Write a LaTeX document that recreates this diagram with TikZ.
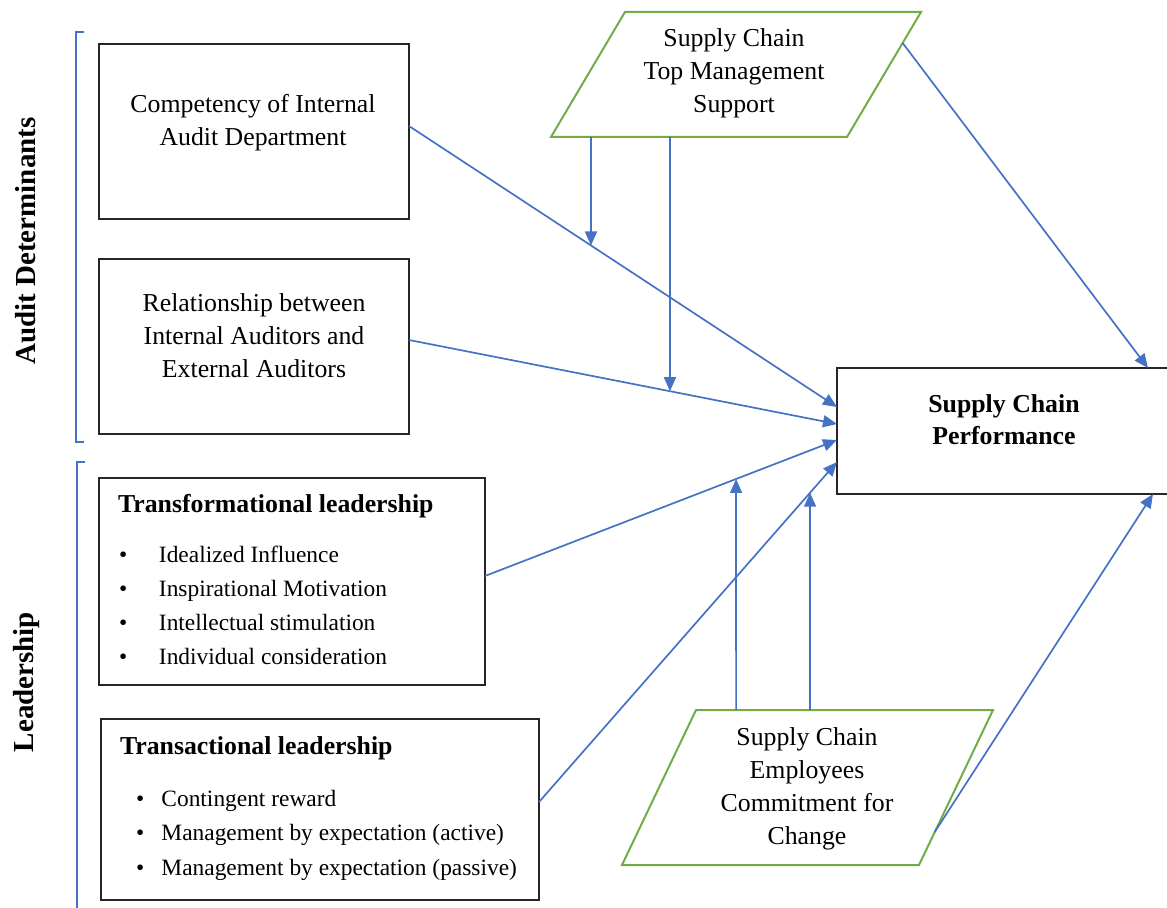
\documentclass[tikz,border=0pt]{standalone}
\usepackage{fontspec}
\setmainfont{Liberation Serif}
\usetikzlibrary{arrows.meta,calc}

\definecolor{linkblue}{HTML}{4472C4}
\definecolor{modgreen}{HTML}{70AD47}
\definecolor{boxline}{HTML}{262626}

% centred stack of lines whose baseline is the first line
\newcommand{\linesc}[1]{\begin{tabular}[t]{@{}c@{}}#1\end{tabular}}
% left-aligned list whose baseline is the first line
\newcommand{\linesl}[1]{\begin{tabular}[t]{@{}l@{}}#1\end{tabular}}
% bullet set in a box of fixed width
\newcommand{\itemdot}[1]{\makebox[#1][l]{\textbullet}}

\begin{document}
\begin{tikzpicture}[x=0.5pt,y=-0.5pt,
  every node/.style={inner sep=0pt, outer sep=0pt},
  frame/.style={draw=boxline, line width=1pt},
  para/.style={draw=modgreen, line width=1pt},
  conn/.style={draw=linkblue, line width=0.85pt, -{Triangle[length=7pt,width=6pt]}},
  brace/.style={draw=linkblue, line width=0.8pt},
  body/.style={font=\fontsize{12.9}{16.5}\selectfont},
  listtext/.style={font=\fontsize{11.7}{17}\selectfont},
  head/.style={font=\fontsize{12.9}{16}\selectfont\bfseries},
  side/.style={font=\fontsize{14.5}{18}\selectfont\bfseries, rotate=90, anchor=base},
]
\useasboundingbox (0,0) rectangle (1167,908);

% ---- group brackets and their labels
\draw[brace] (84,32) -- (76,32) -- (76,442) -- (84,442);
\draw[brace] (85,462) -- (77,462) -- (77,912);
\node[side] (lblaudit) at (35,241) {Audit Determinants};
\node[side] (lbllead) at (33,682) {Leadership};

% ---- determinant boxes
\node[frame, minimum width=155pt, minimum height=87.5pt] (box1) at (254,131.5) {};
\node[body, anchor=base] (t1) at (253,113) {\linesc{Competency of Internal\\Audit Department}};

\node[frame, minimum width=155pt, minimum height=87.5pt] (box2) at (254,346.5) {};
\node[body, anchor=base] (t2) at (254,312) {\linesc{Relationship between\\Internal Auditors and\\External Auditors}};

\node[frame, minimum width=193pt, minimum height=103.5pt] (box3) at (292,581.5) {};
\node[head, anchor=base west] (t3h) at (118,513) {Transformational leadership};
\node[listtext, anchor=base west] (t3l) at (119,563) {\linesl{%
  \itemdot{20pt}Idealized Influence\\
  \itemdot{20pt}Inspirational Motivation\\
  \itemdot{20pt}Intellectual stimulation\\
  \itemdot{20pt}Individual consideration}};

\node[frame, minimum width=219pt, minimum height=90.5pt] (box4) at (320,809.5) {};
\node[head, anchor=base west] (t4h) at (120,754) {Transactional leadership};
\node[font=\fontsize{11.7}{17.25}\selectfont, anchor=base west] (t4l) at (136,806) {\linesl{%
  \itemdot{12.75pt}Contingent reward\\
  \itemdot{12.75pt}Management by expectation (active)\\
  \itemdot{12.75pt}Management by expectation (passive)}};

% ---- outcome box
\node[frame, minimum width=167pt, minimum height=63pt] (perf) at (1004,431) {};
\node[head, anchor=base] (tperf) at (1004,413) {\linesc{Supply Chain\\Performance}};

% ---- moderators
\coordinate (tmA) at (551,137);
\coordinate (tmB) at (847,137);
\coordinate (tmC) at (921,12);
\coordinate (tmD) at (625,12);
\draw[para] (tmA) -- (tmB) -- (tmC) -- (tmD) -- cycle;
\node[body, anchor=base] (tm) at (734,47) {\linesc{Supply Chain\\Top Management\\Support}};

\coordinate (ecA) at (622,865);
\coordinate (ecB) at (919,865);
\coordinate (ecC) at (993,710);
\coordinate (ecD) at (696,710);
\draw[para] (ecA) -- (ecB) -- (ecC) -- (ecD) -- cycle;
\node[body, anchor=base] (ec) at (807,745) {\linesc{Supply Chain\\Employees\\Commitment for\\Change}};

% ---- direct paths into performance
\coordinate (a1) at ([yshift=2.75pt]box1.east);
\coordinate (a2) at ([yshift=12pt]perf.west);
\coordinate (b1) at ([yshift=3.25pt]box2.east);
\coordinate (b2) at ([yshift=3.5pt]perf.west);
\coordinate (c1) at ([yshift=2.75pt]box3.east);
\coordinate (c2) at ([yshift=-4.5pt]perf.west);
\coordinate (d1) at ([yshift=3.75pt]box4.east);
\coordinate (d2) at ([yshift=-15.5pt]perf.west);
\draw[conn] (a1) -- (a2);
\draw[conn] (b1) -- (b2);
\draw[conn] (c1) -- (c2);
\draw[conn] (d1) -- (d2);

\coordinate (e1) at ($(tmC)!0.248!(tmB)$);
\coordinate (e2) at ([xshift=72pt]perf.north);
\draw[conn] (e1) -- (e2);

\coordinate (g1) at ($(ecC)!0.787!(ecB)$);
\coordinate (g2) at ([xshift=74.5pt]perf.south);
\draw[conn] (g1) -- (g2);

% ---- moderating arrows onto the paths
\coordinate (m1) at ($(tmA)!0.135!(tmB)$);
\coordinate (m1x) at ([yshift=-100pt]m1);
\coordinate (m2) at ($(tmA)!0.402!(tmB)$);
\coordinate (m2x) at ([yshift=-200pt]m2);
\coordinate (m3) at ($(ecD)!0.135!(ecC)$);
\coordinate (m3x) at ([yshift=200pt]m3);
\coordinate (m4) at ($(ecD)!0.384!(ecC)$);
\coordinate (m4x) at ([yshift=200pt]m4);
\draw[conn] (m1) -- (intersection of m1--m1x and a1--a2);
\draw[conn] (m2) -- (intersection of m2--m2x and b1--b2);
\draw[conn] (m3) -- (intersection of m3--m3x and c1--c2);
\draw[conn] (m4) -- (intersection of m4--m4x and d1--d2);
\end{tikzpicture}
\end{document}
